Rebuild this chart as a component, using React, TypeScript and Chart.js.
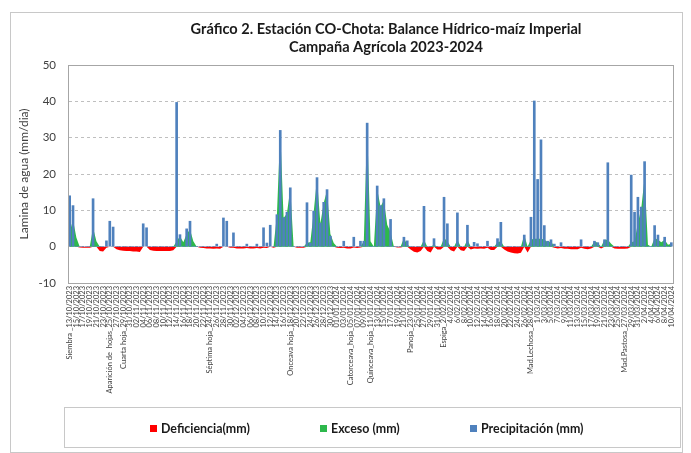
import React, { useEffect, useRef } from 'react';
import { Chart, registerables } from 'chart.js';

Chart.register(...registerables);

const titleLines = [
  'Gráfico 2. Estación CO-Chota: Balance Hídrico-maíz Imperial',
  'Campaña Agrícola 2023-2024',
];
const yAxisTitle = 'Lamina de agua (mm/dia)';
const seriesNames = ['Deficiencia(mm)', 'Exceso (mm)', 'Precipitación (mm)'];
const seriesColors = ['#FF0000', '#2DB84C', '#4F81BD'];
const yMin = -10;
const yMax = 50;
const yStep = 10;

const firstDayUTC = Date.UTC(2023, 9, 13);
const dayCount = 181;

// phenological stages: [day index from 13/10/2023, prefix]
const stages: [number, string][] = [
  [0, 'Siembra _'],
  [12, 'Aparición de  hojas_'],
  [16, 'Cuarta hoja_'],
  [42, 'Séptima hoja_'],
  [66, 'Onceava hoja_'],
  [84, 'Catorceava_hoja_'],
  [90, 'Quinceava_hoja_'],
  [102, 'Panoja_'],
  [112, 'Espiga_'],
  [138, 'Mad.Lechosa_'],
  [166, 'Mad.Pastosa_'],
];

// Precipitación (mm) per day
const precipitacion = [
  14, 11.3, 0, 0, 0, 0, 0, 13.2, 0, 0,
  0, 1.6, 7.0, 5.4, 0, 0, 0, 0, 0, 0,
  0, 0, 6.3, 5.2, 0, 0, 0, 0, 0, 0,
  0, 0, 39.7, 3.3, 0, 4.9, 7.0, 0, 0, 0,
  0, 0, 0, 0, 0.7, 0, 7.9, 7.0, 0, 3.8,
  0, 0, 0, 0.7, 0, 0, 0.7, 0, 5.2, 1.0,
  5.9, 0, 8.8, 32, 8, 9.5, 16.2, 0, 0, 0,
  0, 12.1, 1.0, 9.8, 19, 6.5, 12.2, 15.7, 2.9, 0,
  0, 0, 1.5, 0, 0, 2.6, 0, 1.5, 1.5, 34,
  0, 0, 16.7, 11.3, 13.2, 0, 7.5, 0, 0, 0,
  2.6, 1.6, 0, 0, 0, 0, 11.1, 0, 0, 2.2,
  0, 0, 13.6, 6.3, 0, 0, 9.3, 0, 0, 5.9,
  0, 1.2, 0.8, 0, 0, 1.5, 0, 0, 2.2, 6.7,
  0, 0, 0, 0, 0, 0, 3.2, 0, 8.1, 40.1,
  18.5, 29.4, 5.8, 1.5, 1.9, 0.7, 0, 1.1, 0, 0,
  0, 0, 0, 1.9, 0, 0, 0, 1.5, 1.1, 0,
  1.9, 23.1, 0, 0, 0, 0, 0, 0, 19.7, 9.5,
  13.6, 10.9, 23.4, 0, 0, 5.8, 3.2, 0, 2.6, 0,
  1.1,
];

// Exceso (mm) per day
const exceso = [
  4, 7.4, 2.5, 0, 0, 0, 0, 5.2, 1.5, 0,
  0, 0, 0, 0, 0, 0, 0, 0, 0, 0,
  0, 0, 0, 0, 0, 0, 0, 0, 0, 0,
  0, 0, 1.5, 2.9, 1.2, 3.5, 4.7, 1.5, 0, 0,
  0, 0, 0, 0, 0, 0, 0, 0, 0, 0,
  0, 0, 0, 0, 0, 0, 0, 0, 0, 0,
  0, 0, 8.8, 31.8, 7.9, 9.1, 16, 0, 0, 0,
  0, 1.1, 1.2, 9.5, 18.8, 6.3, 12, 15.5, 3.5, 1,
  0, 0, 0, 0, 0, 0, 0, 0, 1.5, 33.5,
  1.5, 0, 15.8, 11, 12.8, 6, 4, 0, 0, 0,
  2.4, 0.5, 0, 0, 0, 0, 1.9, 0, 0, 0.5,
  0, 0, 2.4, 1.5, 0, 0, 1.9, 0, 0, 1.9,
  0, 0, 0, 0, 0, 0, 0, 0, 1.2, 1.5,
  0, 0, 0, 0, 0, 0, 3.2, 0, 2.0, 2.2,
  2.2, 2.2, 2.0, 1.2, 1.5, 0, 0, 0, 0, 0,
  0, 0, 0, 0, 0, 0, 0, 1.5, 1.0, 0,
  1.9, 1.9, 0.8, 0, 0, 0, 0, 0, 1.2, 1.5,
  6.5, 10.5, 19, 0.5, 0, 2.4, 1.9, 1.2, 1.9, 0.5,
  0.8,
];

// Deficiencia (mm) per day
const deficiencia = [
  0, 0, 0, -0.2, -0.3, -0.3, -0.3, 0, 0, -1.2,
  -1.3, -0.3, 0, 0, -0.7, -1.0, -1.1, -1.2, -1.2, -1.3,
  -1.3, -1.5, 0, 0, -0.9, -1.1, -1.2, -1.2, -1.2, -1.2,
  -1.2, -1.0, 0, 0, 0, 0, 0, 0, 0, -0.3,
  -0.4, -0.5, -0.5, -0.6, -0.5, -0.6, 0, 0, -0.3, -0.3,
  -0.5, -0.5, -0.5, -0.4, -0.5, -0.5, -0.4, -0.5, -0.3, -0.4,
  0, -0.3, 0, 0, 0, 0, 0, 0, -0.3, -0.3,
  -0.3, 0, 0, 0, 0, 0, 0, 0, 0, 0,
  -0.3, -0.4, -0.3, -0.5, -0.5, -0.2, -0.4, -0.2, 0, 0,
  0, 0, 0, 0, 0, 0, 0, 0, -0.2, -0.2,
  0, 0, -0.8, -1.4, -1.6, -1.2, 0, -1.2, -1.6, 0,
  -0.8, -0.8, 0, 0, -1.0, -1.3, 0, -1.0, -1.2, 0,
  -0.8, -0.5, -0.6, -0.5, -0.6, -0.3, -0.9, -0.9, 0, 0,
  -0.8, -1.3, -1.6, -1.8, -1.9, -1.7, 0, -1.6, 0, 0,
  0, 0, 0, 0, 0, -0.3, -0.5, -0.4, -0.6, -0.6,
  -0.7, -0.7, -0.7, -0.3, -0.6, -0.7, -0.5, 0, 0, -0.5,
  0, 0, 0, -0.5, -0.6, -0.6, -0.6, -0.5, 0, 0,
  0, 0, 0, 0, 0, 0, 0, 0, 0, 0,
  0,
];

function dateLabel(i: number): string {
  const d = new Date(firstDayUTC + i * 86400000);
  const day = d.getUTCDate();
  const month = d.getUTCMonth() + 1;
  const year = d.getUTCFullYear();
  const padDay = year === 2023 || month === 1;
  const dd = padDay && day < 10 ? '0' + day : String(day);
  const mm = month < 10 ? '0' + month : String(month);
  return `${dd}/${mm}/${year}`;
}

const categories: string[] = Array.from({ length: dayCount }, (_, i) => {
  const st = stages.find((s) => s[0] === i);
  return (st ? st[1] : '') + dateLabel(i);
});

const FONT = 'Lato, "Open Sans", sans-serif';

function fitFont(ctx: CanvasRenderingContext2D, text: string, weight: string, target: number, base: number) {
  ctx.font = `${weight} ${base}px ${FONT}`;
  const w = ctx.measureText(text).width;
  const size = Math.min(base * 1.3, Math.max(base * 0.7, (base * target) / w));
  return `${weight} ${size}px ${FONT}`;
}

const decorPlugin = {
  id: 'decor',
  beforeDraw(chart: any) {
    const ctx = chart.ctx as CanvasRenderingContext2D;
    ctx.save();
    ctx.fillStyle = '#ffffff';
    ctx.fillRect(0, 0, chart.width, chart.height);
    ctx.strokeStyle = '#C8C8C8';
    ctx.lineWidth = 1;
    ctx.strokeRect(10.5, 12.5, 672, 440);
    ctx.restore();
  },
  afterDatasetsDraw(chart: any) {
    const ctx = chart.ctx as CanvasRenderingContext2D;
    const a = chart.chartArea;
    ctx.save();
    ctx.strokeStyle = '#A6A6A6';
    ctx.lineWidth = 1;
    ctx.strokeRect(Math.round(a.left) + 0.5, Math.round(a.top) + 0.5, Math.round(a.right - a.left), Math.round(a.bottom - a.top));
    ctx.restore();
  },
  afterDraw(chart: any) {
    const ctx = chart.ctx as CanvasRenderingContext2D;
    ctx.save();
    // titles
    ctx.fillStyle = '#1a1a1a';
    ctx.textAlign = 'center';
    ctx.textBaseline = 'middle';
    ctx.font = fitFont(ctx, titleLines[0], 'bold', 391, 14);
    ctx.fillText(titleLines[0], 386, 29);
    ctx.fillText(titleLines[1], 386, 47);
    // legend box
    ctx.strokeStyle = '#C8C8C8';
    ctx.lineWidth = 1;
    ctx.strokeRect(64.5, 407.5, 616, 40);
    const items = [
      { x: 150, text: seriesNames[0], color: seriesColors[0] },
      { x: 320, text: seriesNames[1], color: seriesColors[1] },
      { x: 470, text: seriesNames[2], color: seriesColors[2] },
    ];
    ctx.font = fitFont(ctx, seriesNames[0], 'bold', 89, 11);
    ctx.textAlign = 'left';
    for (const it of items) {
      ctx.fillStyle = it.color;
      ctx.fillRect(it.x, 425, 7, 7);
      ctx.fillStyle = '#1a1a1a';
      ctx.fillText(it.text, it.x + 11, 429);
    }
    ctx.restore();
  },
};

export default function App() {
  const ref = useRef<HTMLCanvasElement | null>(null);

  useEffect(() => {
    if (!ref.current) return;
    const chart = new Chart(ref.current, {
      data: {
        labels: categories,
        datasets: [
          {
            type: 'bar',
            label: seriesNames[2],
            data: precipitacion,
            backgroundColor: seriesColors[2],
            barThickness: 2,
            order: 0,
          },
          {
            type: 'line',
            label: seriesNames[1],
            data: exceso,
            fill: 'origin',
            backgroundColor: seriesColors[1],
            borderColor: 'rgba(0,0,0,0)',
            borderWidth: 0,
            pointRadius: 0,
            tension: 0,
            order: 1,
          },
          {
            type: 'line',
            label: seriesNames[0],
            data: deficiencia,
            fill: 'origin',
            backgroundColor: seriesColors[0],
            borderColor: 'rgba(0,0,0,0)',
            borderWidth: 0,
            pointRadius: 0,
            tension: 0,
            order: 2,
          },
        ] as any,
      },
      options: {
        animation: false,
        responsive: true,
        maintainAspectRatio: false,
        layout: { padding: { left: 10, right: 18, top: 65, bottom: 50 } },
        plugins: {
          legend: { display: false },
          title: { display: false },
          tooltip: { enabled: false },
        },
        scales: {
          x: {
            type: 'category',
            offset: true,
            grid: { display: false, drawTicks: false },
            border: { display: true, color: '#A6A6A6' },
            ticks: {
              autoSkip: false,
              maxRotation: 90,
              minRotation: 90,
              padding: 3,
              color: '#404040',
              font: { family: FONT, size: 7.5 },
              callback: (_v: any, i: number) => (i % 2 === 0 ? categories[i] : null),
            },
            afterFit: (s: any) => {
              s.height = 120;
            },
          },
          y: {
            min: yMin,
            max: yMax,
            ticks: {
              stepSize: yStep,
              padding: 12,
              color: '#404040',
              font: { family: FONT, size: 11.5 },
            },
            grid: { color: '#BFBFBF', drawTicks: false },
            border: { display: true, color: '#A6A6A6', dash: [3, 3] },
            title: {
              display: true,
              text: yAxisTitle,
              color: '#404040',
              font: { family: FONT, size: 12 },
              padding: { top: 7, bottom: 0 },
            },
            afterFit: (s: any) => {
              s.width = 58;
            },
          },
        },
      } as any,
      plugins: [decorPlugin],
    });
    return () => chart.destroy();
  }, []);

  return (
    <div style={{ position: 'absolute', left: 0, top: 0, width: 691, height: 453 }}>
      <canvas ref={ref} />
    </div>
  );
}
